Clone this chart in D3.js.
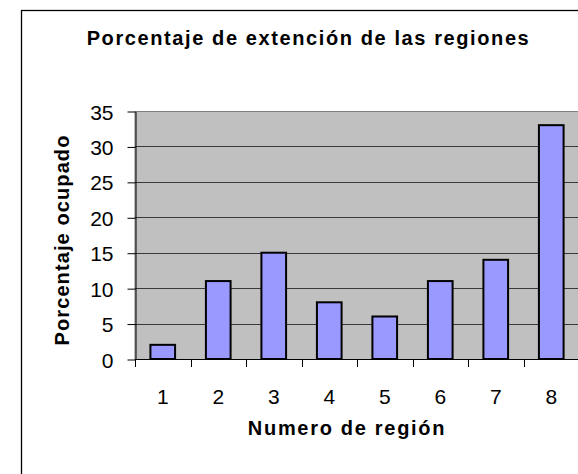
<!DOCTYPE html>
<html>
<head>
<meta charset="utf-8">
<script src="https://cdn.jsdelivr.net/npm/d3@7"></script>
<style>
  html, body { margin: 0; padding: 0; background: #fff; }
  svg { display: block; font-family: "Liberation Sans", Arial, sans-serif; }
</style>
</head>
<body>
<svg id="chart" width="578" height="474"></svg>
<script>
const categories = ["1", "2", "3", "4", "5", "6", "7", "8"];
const values = [2, 11, 15, 8, 6, 11, 14, 33];
const yTicks = [0, 5, 10, 15, 20, 25, 30, 35];
const titleText = "Porcentaje de extención de las regiones";
const xTitleText = "Numero de región";
const yTitleText = "Porcentaje ocupado";

const FONT = "'Liberation Sans', Arial, sans-serif";
const svg = d3.select("#chart");

// chart area frame (extends past the picture on right and bottom)
svg.append("rect")
  .attr("x", 21.5).attr("y", 10.5)
  .attr("width", 800).attr("height", 800)
  .attr("fill", "#fff").attr("stroke", "#000").attr("stroke-width", 1.3);

const plot = { left: 135, right: 579, top: 111, bottom: 359 };

const x = d3.scaleBand().domain(categories).range([plot.left, plot.right]).padding(0);
const y = d3.scaleLinear().domain([0, 35]).range([plot.bottom, plot.top]);

// plot area
svg.append("rect")
  .attr("x", plot.left).attr("y", plot.top + 0.5)
  .attr("width", plot.right - plot.left + 5).attr("height", plot.bottom - plot.top)
  .attr("fill", "#c0c0c0").attr("stroke", "#808080").attr("stroke-width", 1);

// gridlines
svg.append("g").selectAll("line")
  .data(yTicks.filter(d => d > 0 && d < 35))
  .join("line")
  .attr("x1", plot.left).attr("x2", plot.right + 5)
  .attr("y1", d => Math.round(y(d)) + 0.5).attr("y2", d => Math.round(y(d)) + 0.5)
  .attr("stroke", "#3a3a3a").attr("stroke-width", 1);

// bars
const barW = x.bandwidth() / 2.25;
svg.append("g").selectAll("rect")
  .data(values)
  .join("rect")
  .attr("x", (d, i) => x(categories[i]) + (x.bandwidth() - barW) / 2)
  .attr("y", d => y(d))
  .attr("width", barW)
  .attr("height", d => y(0) - y(d))
  .attr("fill", "#9999ff")
  .attr("stroke", "#000")
  .attr("stroke-width", 2);

// y axis
const yAxis = d3.axisLeft(y).tickValues(yTicks).tickSize(8).tickPadding(14).tickSizeOuter(0);
const gy = svg.append("g").attr("transform", `translate(${plot.left + 0.5},0.5)`).call(yAxis);
gy.attr("font-family", FONT);
gy.select(".domain").attr("stroke", "#000");
gy.selectAll(".tick line").attr("stroke", "#000");
gy.selectAll(".tick text")
  .attr("font-family", FONT)
  .attr("font-size", 21).attr("fill", "#000")
  .attr("dy", "0.36em");

// x axis: ticks at category boundaries
const boundaries = categories.map(c => x(c)).concat([plot.right]);
const gx = svg.append("g");
gx.append("line")
  .attr("x1", plot.left).attr("x2", plot.right + 5)
  .attr("y1", plot.bottom + 0.5).attr("y2", plot.bottom + 0.5)
  .attr("stroke", "#000");
gx.selectAll("line.tk")
  .data(boundaries)
  .join("line").attr("class", "tk")
  .attr("x1", d => Math.round(d) + 0.5).attr("x2", d => Math.round(d) + 0.5)
  .attr("y1", plot.bottom).attr("y2", plot.bottom + 8)
  .attr("stroke", "#000");
gx.selectAll("text")
  .data(categories)
  .join("text")
  .attr("x", d => x(d) + x.bandwidth() / 2)
  .attr("y", 404)
  .attr("text-anchor", "middle")
  .attr("font-family", FONT)
  .attr("font-size", 21).attr("fill", "#000")
  .text(d => d);

// titles
svg.append("text")
  .attr("x", 308.5).attr("y", 45)
  .attr("text-anchor", "middle")
  .attr("font-family", FONT)
  .attr("font-size", 20).attr("font-weight", "bold")
  .attr("letter-spacing", 1.6)
  .text(titleText);

svg.append("text")
  .attr("x", 347).attr("y", 435)
  .attr("text-anchor", "middle")
  .attr("font-family", FONT)
  .attr("font-size", 20).attr("font-weight", "bold")
  .attr("letter-spacing", 1.7)
  .text(xTitleText);

svg.append("text")
  .attr("transform", "translate(68.5,240) rotate(-90)")
  .attr("text-anchor", "middle")
  .attr("font-family", FONT)
  .attr("font-size", 20).attr("font-weight", "bold")
  .attr("letter-spacing", 1.1)
  .text(yTitleText);
</script>
</body>
</html>
